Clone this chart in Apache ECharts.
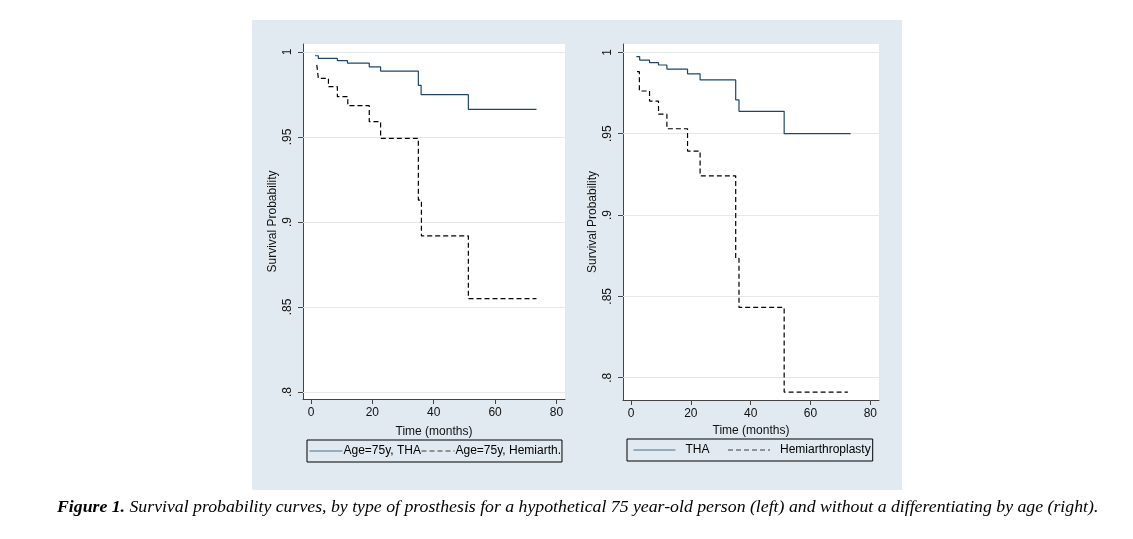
<!DOCTYPE html>
<html>
<head>
<meta charset="utf-8">
<script src="https://cdn.jsdelivr.net/npm/echarts@6/dist/echarts.min.js"></script>
<style>
html,body{margin:0;padding:0;background:#fff;}
#c{width:1133px;height:539px;}
</style>
</head>
<body>
<div id="c"></div>
<script>
// ---- data ----
var xTicks = [0, 20, 40, 60, 80];
var yTicks = [0.8, 0.85, 0.9, 0.95, 1];

var leftNames = ['Age=75y, THA', 'Age=75y, Hemiarth.'];
var rightNames = ['THA', 'Hemiarthroplasty'];

var leftTHA_t = [1.3, 2.4, 8.6, 11.9, 19.0, 22.7, 35.0, 35.9, 51.3, 73.5];
var leftTHA_s = [0.9978, 0.9962, 0.9949, 0.9934, 0.9912, 0.9888, 0.9804, 0.9749, 0.9663, 0.9663];

var leftHemi_t = [1.9, 2.4, 5.7, 8.6, 12.0, 19.0, 22.7, 35.0, 36.0, 51.3, 73.5];
var leftHemi_s = [0.9924, 0.9845, 0.9796, 0.9737, 0.9684, 0.9590, 0.9492, 0.9129, 0.8918, 0.8549, 0.8549];

var rightTHA_t = [1.8, 2.9, 6.2, 9.2, 12.0, 18.9, 23.1, 35.0, 36.1, 51.2, 73.4];
var rightTHA_s = [0.9973, 0.9952, 0.9936, 0.9922, 0.9897, 0.9868, 0.9830, 0.9707, 0.9637, 0.9500, 0.9500];

var rightHemi_t = [2.0, 2.8, 6.2, 9.2, 12.0, 18.9, 23.1, 35.0, 36.1, 51.2, 72.5];
var rightHemi_s = [0.9881, 0.9762, 0.9700, 0.9620, 0.9530, 0.9393, 0.9241, 0.8734, 0.8432, 0.7912, 0.7912];

var captionBold = 'Figure 1.';
var captionText = ' Survival probability curves, by type of prosthesis for a hypothetical 75 year-old person (left) and without a differentiating by age (right).';

// ---- helpers ----
function pairs(t, s) { return t.map(function (v, i) { return [v, s[i]]; }); }
function yFmt(v) {
  var r = Math.round(v * 100) / 100;
  if (r === 1) return '1';
  return String(r).replace(/^0/, '');
}
var FONT = 'Liberation Sans';
var navy = '#1a476f';

function xAxisCfg(idx, min, max, gap) {
  return {
    gridIndex: idx, type: 'value', min: min, max: max,
    name: 'Time (months)', nameLocation: 'middle', nameGap: gap,
    nameTextStyle: { fontFamily: FONT, fontSize: 12, color: '#111' },
    axisLine: { show: true, onZero: false, lineStyle: { color: '#444', width: 1 } },
    axisTick: { show: true, customValues: xTicks, length: 5, lineStyle: { color: '#444' } },
    axisLabel: { customValues: xTicks, margin: 8, fontFamily: FONT, fontSize: 12, color: '#111' },
    splitLine: { show: false }
  };
}
function yAxisCfg(idx, min, max) {
  return {
    gridIndex: idx, type: 'value', min: min, max: max,
    name: 'Survival Probability', nameLocation: 'middle', nameGap: 24,
    nameTextStyle: { fontFamily: FONT, fontSize: 12, color: '#111' },
    axisLine: { show: true, onZero: false, lineStyle: { color: '#444', width: 1 } },
    axisTick: { show: true, customValues: yTicks, length: 5, lineStyle: { color: '#444' } },
    axisLabel: { customValues: yTicks, rotate: 90, margin: 9, formatter: yFmt,
      fontFamily: FONT, fontSize: 12, color: '#111' },
    splitLine: { show: false }
  };
}
function gridLines(color) {
  return {
    silent: true, symbol: 'none', z: 1,
    label: { show: false },
    lineStyle: { color: color, type: 'solid', width: 1 },
    data: yTicks.map(function (v) { return { yAxis: v }; })
  };
}
function stepSeries(name, idx, data, color, dashed, withGrid) {
  var s = {
    name: name, type: 'line', step: 'end', xAxisIndex: idx, yAxisIndex: idx,
    data: data, symbol: 'none', animation: false, z: 3,
    lineStyle: { color: color, width: 1.2, type: dashed ? [5, 3] : 'solid' },
    itemStyle: { color: color }
  };
  if (withGrid) s.markLine = gridLines('#e4e8eb');
  return s;
}
var hiddenSymbol = { opacity: 0, borderWidth: 0, color: 'rgba(0,0,0,0)', borderColor: 'rgba(0,0,0,0)' };

var chart = echarts.init(document.getElementById('c'));
chart.setOption({
  animation: false,
  backgroundColor: '#fff',
  graphic: [
    { type: 'rect', z: -10, shape: { x: 252, y: 20, width: 650, height: 470 }, style: { fill: '#e1eaf0' } },
    { type: 'text', left: 57, top: 498,
      style: {
        text: '{b|' + captionBold + '}' + captionText,
        fontFamily: 'Liberation Serif', fontStyle: 'italic', fontSize: 17.75, fill: '#000',
        rich: { b: { fontFamily: 'Liberation Serif', fontStyle: 'italic', fontWeight: 'bold', fontSize: 17.75, fill: '#000' } }
      }
    }
  ],
  grid: [
    { left: 303, top: 44, width: 262, height: 355, show: true, backgroundColor: '#fff', borderWidth: 0 },
    { left: 623, top: 44, width: 256, height: 356, show: true, backgroundColor: '#fff', borderWidth: 0 }
  ],
  xAxis: [xAxisCfg(0, -2.6, 82.8, 27), xAxisCfg(1, -2.67, 82.9, 23)],
  yAxis: [yAxisCfg(0, 0.7959, 1.0047), yAxisCfg(1, 0.7863, 1.0051)],
  legend: [
    { data: leftNames, left: 307, top: 440, orient: 'horizontal',
      borderColor: '#000', borderWidth: 1, padding: [5, 1, 5, 2],
      itemWidth: 33, itemHeight: 10, itemGap: 0, itemStyle: hiddenSymbol,
      lineStyle: { width: 1, opacity: 0.75 },
      textStyle: { fontFamily: FONT, fontSize: 12, color: '#000', padding: [0, 0, 0, -4] } },
    { data: rightNames, left: 627, top: 439, orient: 'horizontal',
      borderColor: '#000', borderWidth: 1, padding: [5, 2, 5, 6],
      itemWidth: 42, itemHeight: 10, itemGap: 18, itemStyle: hiddenSymbol,
      lineStyle: { width: 1, opacity: 0.75 },
      textStyle: { fontFamily: FONT, fontSize: 12, color: '#000', padding: [0, 0, 0, 5] } }
  ],
  series: [
    stepSeries(leftNames[0], 0, pairs(leftTHA_t, leftTHA_s), navy, false, true),
    stepSeries(leftNames[1], 0, pairs(leftHemi_t, leftHemi_s), '#000', true, false),
    stepSeries(rightNames[0], 1, pairs(rightTHA_t, rightTHA_s), navy, false, true),
    stepSeries(rightNames[1], 1, pairs(rightHemi_t, rightHemi_s), '#000', true, false)
  ]
});
</script>
</body>
</html>
